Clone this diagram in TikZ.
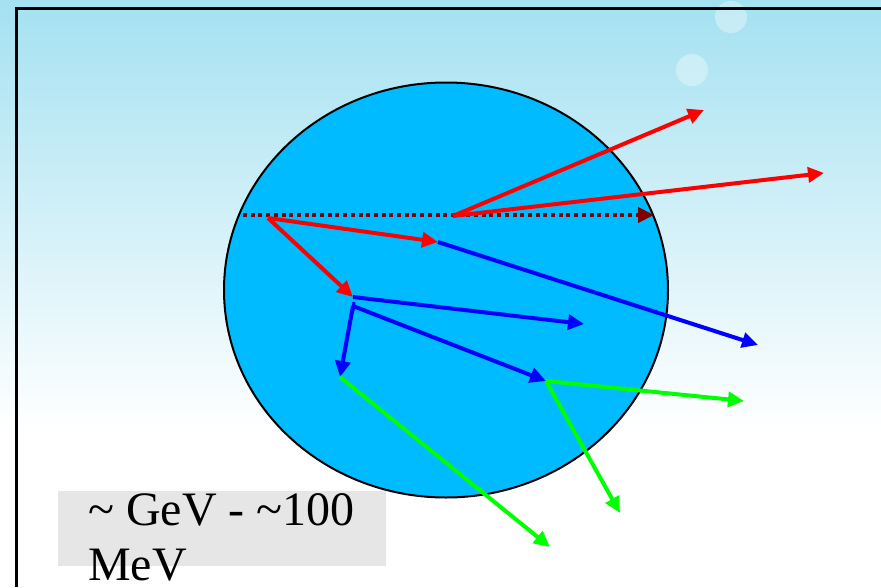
\documentclass[tikz,border=0pt]{standalone}
\usepackage{fontspec}
\setmainfont{Liberation Serif}
\usetikzlibrary{arrows.meta,shapes.geometric}
\definecolor{skytop}{RGB}{164,225,241}
\definecolor{ballblue}{RGB}{0,187,255}
\definecolor{darkred}{RGB}{128,0,0}
\definecolor{boxgray}{RGB}{230,230,230}
\definecolor{pgreen}{RGB}{0,255,0}
\tikzset{
  trk/.style={line width=4pt, -{Triangle[length=16pt,width=15pt]}},
  redtrk/.style={trk, draw=red},
  bluetrk/.style={trk, draw=blue},
  greentrk/.style={trk, draw=pgreen},
  bubble/.style={fill=white, fill opacity=0.35, draw=none}
}
\begin{document}
\begin{tikzpicture}[x=1pt,y=-1pt]
\useasboundingbox (0,0) rectangle (881,587);
% background
\fill[white] (0,0) rectangle (881,587);
\shade[top color=skytop, bottom color=white] (0,0) rectangle (881,430);
% bubbles
\fill[bubble] (731,17) circle (16);
\fill[bubble] (692,70) circle (16);
% frame
\draw[line width=3pt] (16,587) -- (16,8) -- (881,8);
% nucleus
\node[draw=black, line width=2pt, fill=ballblue, ellipse, minimum width=444pt, minimum height=415pt, inner sep=0pt] (ball) at (446,290) {};
% points
\coordinate (d0) at (243,215);
\coordinate (d1) at (654,215);
\coordinate (p0) at (268,218);
\coordinate (p1) at (438,242);
\coordinate (p2) at (353,297);
\coordinate (q0) at (453,216);
\coordinate (q1) at (704,110);
\coordinate (q2) at (824,173);
\coordinate (b1) at (758,345);
\coordinate (b2) at (584,324);
\coordinate (c0) at (353,306);
\coordinate (c1) at (546,381);
\coordinate (c2) at (340,377);
\coordinate (g1) at (550,547);
\coordinate (g2) at (744,401);
\coordinate (g3) at (620,513);
\coordinate (t0) at (354,302);
\coordinate (t1) at (353,311);
% dotted line
\draw[darkred, line width=4pt, dash pattern=on 4pt off 3.7pt, -{Triangle[length=16pt,width=15pt]}] (d0) -- (d1);
% red tracks
\draw[redtrk] (q0) -- (q1);
\draw[redtrk] (q0) -- (q2);
% blue tracks
\draw[bluetrk] (p1) -- (b1);
\draw[bluetrk] (p2) -- (b2);
\draw[bluetrk] (c0) -- (c1);
\draw[bluetrk] (c0) -- (c2);
\draw[blue, line width=3pt] (t0) -- (t1);
% green tracks
\draw[greentrk] (c2) -- (g1);
\draw[greentrk] (c1) -- (g2);
\draw[greentrk] (c1) -- (g3);
% red tracks from primary vertex
\draw[redtrk] (p0) -- (p1);
\draw[redtrk] (p0) -- (p2);
% label
\fill[boxgray] (58,491) rectangle (386,566);
\node[anchor=base west, inner sep=0pt, font=\fontsize{48}{55}\selectfont] (l1) at (88,525) {\textasciitilde{} GeV - \textasciitilde100};
\node[anchor=base west, inner sep=0pt, font=\fontsize{48}{55}\selectfont] (l2) at (88,580) {MeV};
\end{tikzpicture}
\end{document}
